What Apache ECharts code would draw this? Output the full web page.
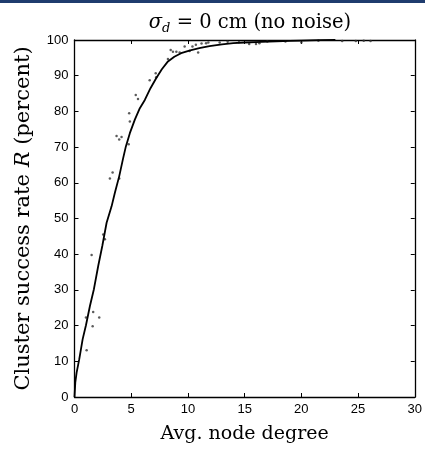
<!DOCTYPE html>
<html>
<head>
<meta charset="utf-8">
<script src="https://cdn.jsdelivr.net/npm/echarts@6/dist/echarts.min.js"></script>
<style>html,body{margin:0;padding:0;background:#fff}#c{width:425px;height:449px}</style>
</head>
<body>
<div id="c"></div>
<script>
// Fitted curve (avg node degree -> cluster success rate %)
const curveX = [0, 0.07, 0.19, 0.42, 0.72, 1.01, 1.36, 1.71, 2.09, 2.45, 2.83, 3.27, 3.56, 3.94, 4.29, 4.53, 4.88, 5.32, 5.76, 6.2, 6.7, 7.2, 7.7, 8.24, 8.8, 9.4, 10.2, 11, 11.9, 13, 14, 15, 16.5, 17.8, 19, 20, 21.5, 23];
const curveY = [0, 4.1, 6.9, 10.6, 16.2, 20.1, 25.5, 30.2, 36.7, 42.3, 48.8, 53.4, 57.2, 61.8, 66.9, 70.2, 73.9, 77.7, 80.9, 83.2, 86.5, 89.3, 91.8, 94, 95.3, 96.3, 97.1, 97.7, 98.3, 98.8, 99.1, 99.3, 99.5, 99.6, 99.75, 99.85, 99.95, 100];
// Individual measurements (dots)
const dotX = [1.07, 1.01, 1.65, 2.18, 1.6, 1.51, 2.53, 2.68, 3.12, 3.36, 3.94, 3.71, 4.15, 3.94, 4.78, 4.82, 4.88, 5.4, 5.6, 6.63, 7.16, 7.2, 8.24, 8.48, 8.68, 8.98, 9.27, 9.71, 10.15, 10.4, 10.7, 10.9, 11.2, 11.6, 11.8, 12.8, 13.5, 14.5, 15.4, 16.0, 16.3, 17, 18.6, 20.0, 21.5, 23.6, 24.8, 25.5, 26.1];
const dotY = [13.1, 22.3, 23.8, 22.3, 19.8, 39.8, 45.5, 44.2, 61.2, 62.9, 61.2, 73.1, 72.8, 72.1, 70.8, 79.5, 77.2, 84.6, 83.5, 88.7, 90.7, 89.6, 94.7, 97.2, 96.7, 96.7, 96.5, 98.2, 96.9, 98.2, 98.7, 96.5, 99.0, 99.1, 99.3, 99.3, 99.5, 99.4, 98.9, 98.9, 99.1, 99.6, 99.6, 99.3, 99.8, 99.7, 99.7, 99.8, 99.7];
const xTicks = [0, 5, 10, 15, 20, 25, 30];
const yTicks = [0, 10, 20, 30, 40, 50, 60, 70, 80, 90, 100];

const serif = '"DejaVu Serif", "Liberation Serif", serif';
const sans = '"Liberation Sans", Arial, sans-serif';
const chart = echarts.init(document.getElementById('c'), null, {renderer: 'canvas'});
const mkLine = () => ({show: true, onZero: false, lineStyle: {color: '#000', width: 1.3}});
const mkTick = () => ({show: true, inside: true, length: 4, lineStyle: {color: '#000', width: 1}});
chart.setOption({
  animation: false,
  backgroundColor: '#fff',
  graphic: [{type: 'rect', shape: {x: 0, y: 0, width: 425, height: 3}, style: {fill: '#1f3c6e'}}],
  title: {
    text: '{s|σ}{sub|d}{n| = 0 cm (no noise)}',
    left: 245, top: 5, textAlign: 'center',
    textStyle: {
      fontWeight: 'normal',
      rich: {
        s: {fontFamily: serif, fontStyle: 'italic', fontWeight: 'normal', fontSize: 19.5, lineHeight: 25, color: '#000'},
        sub: {fontFamily: serif, fontStyle: 'italic', fontWeight: 'normal', fontSize: 13, lineHeight: 13, verticalAlign: 'bottom', color: '#000'},
        n: {fontFamily: serif, fontWeight: 'normal', fontSize: 19.5, lineHeight: 25, color: '#000'}
      }
    }
  },
  grid: {left: 74.5, right: 9, top: 40, bottom: 51, containLabel: false},
  xAxis: [{
    type: 'value', min: 0, max: 30, interval: 5, position: 'bottom',
    axisLine: mkLine(), axisTick: mkTick(), splitLine: {show: false},
    axisLabel: {fontFamily: sans, fontSize: 13, color: '#000', margin: 6, formatter: v => xTicks.includes(v) ? String(v) : ''},
    name: 'Avg. node degree', nameLocation: 'middle', nameGap: 28,
    nameTextStyle: {fontFamily: serif, fontSize: 19, color: '#000'}
  }, {
    type: 'value', min: 0, max: 30, interval: 5, position: 'top',
    axisLine: mkLine(), axisTick: mkTick(), axisLabel: {show: false}, splitLine: {show: false}
  }],
  yAxis: [{
    type: 'value', min: 0, max: 100, interval: 10, position: 'left',
    axisLine: mkLine(), axisTick: mkTick(), splitLine: {show: false},
    axisLabel: {fontFamily: sans, fontSize: 13, color: '#000', margin: 6, formatter: v => yTicks.includes(v) ? String(v) : ''},
    name: '{n|Cluster success rate }{i|R}{n| (percent)}', nameLocation: 'middle', nameGap: 40, nameRotate: 90,
    nameTextStyle: {
      rich: {
        n: {fontFamily: serif, fontSize: 21, color: '#000'},
        i: {fontFamily: serif, fontStyle: 'italic', fontSize: 21, color: '#000'}
      }
    }
  }, {
    type: 'value', min: 0, max: 100, interval: 10, position: 'right',
    axisLine: mkLine(), axisTick: mkTick(), axisLabel: {show: false}, splitLine: {show: false}
  }],
  series: [{
    type: 'scatter', xAxisIndex: 0, yAxisIndex: 0,
    data: dotX.map((x, i) => [x, dotY[i]]),
    symbol: 'circle', symbolSize: 2.5, itemStyle: {color: '#333'}, z: 2
  }, {
    type: 'line', xAxisIndex: 0, yAxisIndex: 0,
    data: curveX.map((x, i) => [x, curveY[i]]),
    showSymbol: false, lineStyle: {color: '#000', width: 1.8}, z: 3
  }]
});
</script>
</body>
</html>
